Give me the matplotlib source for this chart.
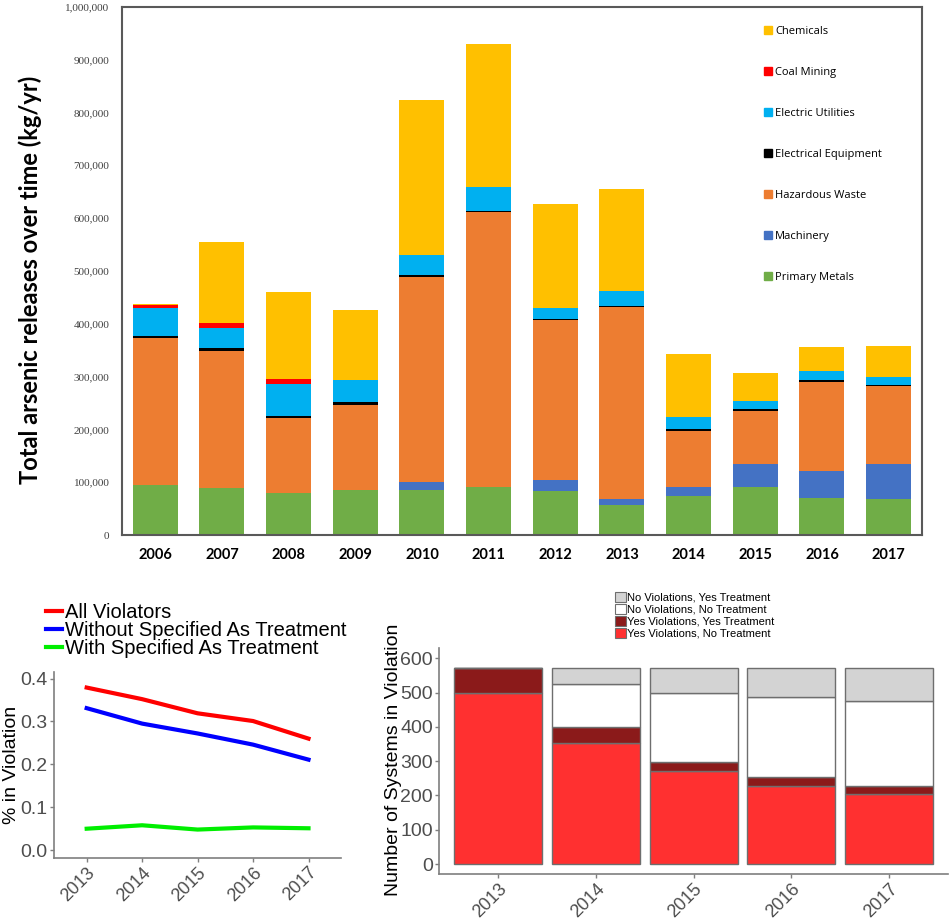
import matplotlib
matplotlib.use("Agg")
import matplotlib.pyplot as plt
from matplotlib.patches import Patch
from matplotlib.lines import Line2D
from matplotlib.ticker import FuncFormatter
import numpy as np

# ---------------- Top chart data (kg/yr) ----------------
years_top = ["2006", "2007", "2008", "2009", "2010", "2011", "2012", "2013", "2014", "2015", "2016", "2017"]
primary_metals = [94000, 89000, 79000, 86000, 86000, 90000, 83000, 57000, 74000, 90000, 70000, 69000]
machinery = [0, 0, 0, 0, 14500, 0, 21000, 11000, 17500, 45000, 52000, 66000]
hazardous_waste = [279000, 260000, 142000, 161000, 387000, 521000, 303000, 363000, 106000, 100000, 168000, 146500]
electrical_equipment = [4000, 4400, 4400, 5500, 4400, 1500, 2000, 2500, 3500, 3500, 3000, 3000]
electric_utilities = [52000, 39000, 60000, 41000, 38000, 46000, 21500, 27500, 23000, 14500, 17500, 14000]
coal_mining = [5700, 9400, 10000, 0, 0, 0, 0, 0, 0, 0, 0, 0]
chemicals = [2000, 153000, 165000, 133000, 294000, 270000, 197000, 194000, 118000, 53000, 46000, 58500]

series_top = [
    ("Primary Metals", primary_metals, "#70AD47"),
    ("Machinery", machinery, "#4472C4"),
    ("Hazardous Waste", hazardous_waste, "#ED7D31"),
    ("Electrical Equipment", electrical_equipment, "#000000"),
    ("Electric Utilities", electric_utilities, "#00B0F0"),
    ("Coal Mining", coal_mining, "#FF0000"),
    ("Chemicals", chemicals, "#FFC000"),
]

# ---------------- Bottom-left line chart ----------------
years_bl = [2013, 2014, 2015, 2016, 2017]
all_violators = [0.379, 0.352, 0.319, 0.301, 0.260]
without_treatment = [0.331, 0.295, 0.272, 0.246, 0.211]
with_treatment = [0.050, 0.058, 0.048, 0.053, 0.051]

# ---------------- Bottom-right stacked bars ----------------
years_br = ["2013", "2014", "2015", "2016", "2017"]
yes_viol_no_treat = [499, 352, 272, 226, 204]
yes_viol_yes_treat = [73, 46, 26, 28, 24]
no_viol_no_treat = [0, 128, 202, 233, 247]
no_viol_yes_treat = [0, 46, 71, 85, 96]

fig = plt.figure(figsize=(9.5, 9.19), dpi=100)

# ======== Top chart ========
ax = fig.add_axes([0.1284, 0.4178, 0.8421, 0.5749])
x = np.arange(len(years_top))
bottom = np.zeros(len(years_top))
handles = {}
for name, vals, col in series_top:
    v = np.array(vals, dtype=float)
    ax.bar(x, v, bottom=bottom, width=0.675, color=col, linewidth=0)
    bottom += v
    handles[name] = Line2D([], [], marker="s", linestyle="none", markersize=6,
                           markerfacecolor=col, markeredgecolor=col)
ax.set_xlim(-0.5, len(years_top) - 0.5)
ax.set_ylim(0, 1000000)
ax.set_yticks(np.arange(0, 1000001, 100000))
ax.yaxis.set_major_formatter(FuncFormatter(lambda v, p: f"{int(v):,}"))
ax.set_xticks(x)
ax.set_xticklabels(years_top, fontsize=10.5, fontweight="bold", family="Lato")
for lab in ax.get_yticklabels():
    lab.set_fontsize(8)
    lab.set_family("Liberation Serif")
    lab.set_color("#404040")
ax.tick_params(axis="both", length=0, pad=9)
for sp in ax.spines.values():
    sp.set_color("#595959")
    sp.set_linewidth(1.5)
ax.set_ylabel("Total arsenic releases over time (kg/yr)", fontsize=17, fontweight="bold",
              family="Lato")
ax.yaxis.set_label_coords(-0.1, 0.483)
order = ["Chemicals", "Coal Mining", "Electric Utilities", "Electrical Equipment",
         "Hazardous Waste", "Machinery", "Primary Metals"]
fig.legend([handles[n] for n in order], order, loc="upper left",
           bbox_to_anchor=(765 / 950, (919 - 26) / 919), frameon=False,
           prop={"family": "Open Sans", "size": 8}, labelspacing=2.7,
           handlelength=0.6, handletextpad=0.3, borderpad=0, borderaxespad=0)

# ======== Bottom-left line chart ========
axl = fig.add_axes([0.0568, 0.0667, 0.3018, 0.2024])
l1, = axl.plot(years_bl, all_violators, color="#FF0000", lw=3)
l2, = axl.plot(years_bl, without_treatment, color="#0000FF", lw=3)
l3, = axl.plot(years_bl, with_treatment, color="#00EE00", lw=3)
axl.set_xlim(2012.41, 2017.58)
axl.set_ylim(-0.0176, 0.416)
axl.set_yticks([0.0, 0.1, 0.2, 0.3, 0.4])
axl.set_yticklabels(["0.0", "0.1", "0.2", "0.3", "0.4"])
axl.set_xticks(years_bl)
axl.set_xticklabels([str(y) for y in years_bl], rotation=45, ha="right", rotation_mode="anchor")
for lab in axl.get_yticklabels():
    lab.set_fontsize(14)
for lab in axl.get_xticklabels():
    lab.set_fontsize(13)
for lab in axl.get_xticklabels() + axl.get_yticklabels():
    lab.set_color("#4D4D4D")
    lab.set_family("Liberation Sans")
axl.tick_params(axis="both", color="#7F7F7F", length=3, width=1, pad=1.5)
for s in ["top", "right"]:
    axl.spines[s].set_visible(False)
for s in ["left", "bottom"]:
    axl.spines[s].set_color("#7F7F7F")
    axl.spines[s].set_linewidth(1.2)
axl.set_ylabel("% in Violation", fontsize=14, family="Liberation Sans")
axl.yaxis.set_label_coords(-0.118, 0.498)
fig.legend([l1, l2, l3], ["All Violators", "Without Specified As Treatment", "With Specified As Treatment"],
           loc="upper left", bbox_to_anchor=(46 / 950, (919 - 603) / 919), frameon=False,
           prop={"family": "Liberation Sans", "size": 14.5}, labelspacing=-0.05,
           handlelength=0.8, handletextpad=0.15, borderpad=0, borderaxespad=0)

# ======== Bottom-right stacked bar chart ========
axr = fig.add_axes([0.4624, 0.049, 0.5355, 0.2456])
xb = np.arange(len(years_br))
stack = [
    ("Yes Violations, No Treatment", yes_viol_no_treat, "#FF3030"),
    ("Yes Violations, Yes Treatment", yes_viol_yes_treat, "#8B1A1A"),
    ("No Violations, No Treatment", no_viol_no_treat, "#FFFFFF"),
    ("No Violations, Yes Treatment", no_viol_yes_treat, "#D3D3D3"),
]
bot = np.zeros(len(years_br))
rh = {}
for name, vals, col in stack:
    v = np.array(vals, dtype=float)
    axr.bar(xb, v, bottom=bot, width=0.9, color=col, edgecolor="#6E6E6E", linewidth=1.0)
    bot += v
    rh[name] = Patch(facecolor=col, edgecolor="#6E6E6E", linewidth=0.8)
axr.set_xlim(-0.6, len(years_br) - 0.4)
axr.set_ylim(-29, 629)
axr.set_yticks([0, 100, 200, 300, 400, 500, 600])
axr.set_xticks(xb)
axr.set_xticklabels(years_br, rotation=45, ha="right", rotation_mode="anchor")
for lab in axr.get_yticklabels():
    lab.set_fontsize(14)
for lab in axr.get_xticklabels():
    lab.set_fontsize(13)
for lab in axr.get_xticklabels() + axr.get_yticklabels():
    lab.set_color("#4D4D4D")
    lab.set_family("Liberation Sans")
axr.tick_params(axis="both", color="#7F7F7F", length=3, width=1, pad=1.5)
for s in ["top", "right"]:
    axr.spines[s].set_visible(False)
for s in ["left", "bottom"]:
    axr.spines[s].set_color("#7F7F7F")
    axr.spines[s].set_linewidth(1.2)
axr.set_ylabel("Number of Systems in Violation", fontsize=14, family="Liberation Sans")
axr.yaxis.set_label_coords(-0.073, 0.505)
lorder = ["No Violations, Yes Treatment", "No Violations, No Treatment",
          "Yes Violations, Yes Treatment", "Yes Violations, No Treatment"]
fig.legend([rh[n] for n in lorder], lorder, loc="upper left",
           bbox_to_anchor=(615 / 950, (919 - 592) / 919), frameon=False,
           prop={"family": "Liberation Sans", "size": 8}, labelspacing=0.1,
           handlelength=1.0, handleheight=1.0, handletextpad=0.1, borderpad=0, borderaxespad=0)

fig.savefig("out.png", dpi=100)
